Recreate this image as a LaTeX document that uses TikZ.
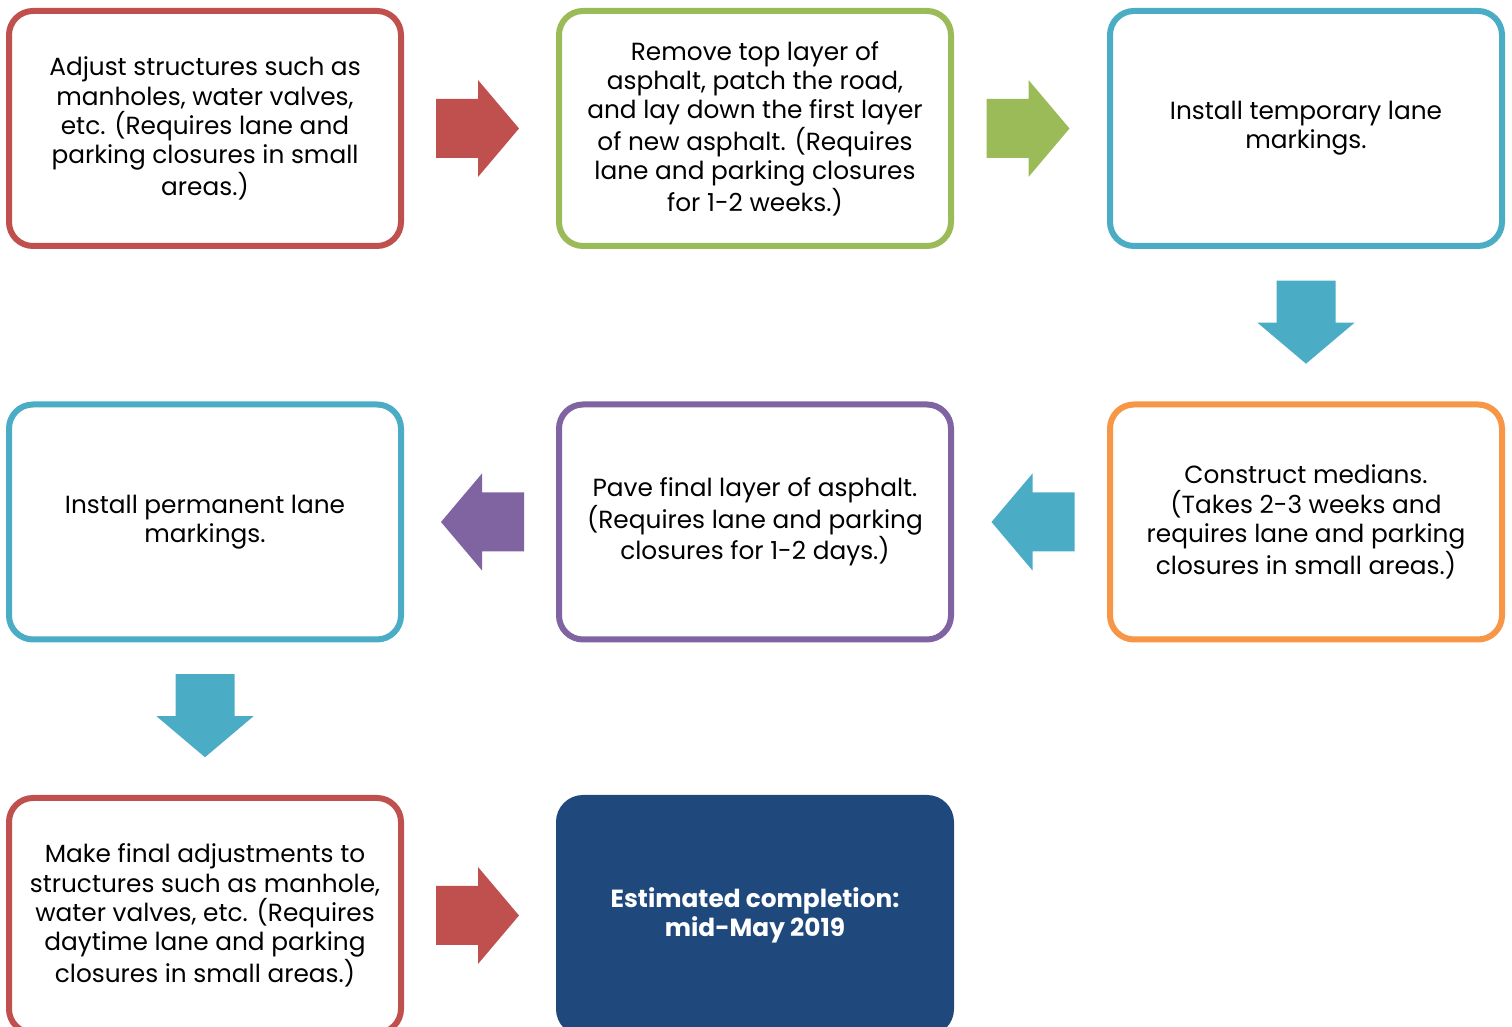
\documentclass[tikz,border=0pt]{standalone}
\usepackage{fontspec}
\setmainfont{Poppins}
\usetikzlibrary{calc}

\definecolor{stepred}{HTML}{C0504D}
\definecolor{stepgreen}{HTML}{9BBB59}
\definecolor{stepblue}{HTML}{4BACC6}
\definecolor{steppurple}{HTML}{8064A2}
\definecolor{steporange}{HTML}{F79646}
\definecolor{stepnavy}{HTML}{1F497D}

\tikzset{
	stepbox/.style={draw, line width=3pt, rounded corners=12pt, minimum width=196pt, minimum height=117.5pt,
		inner sep=0pt, align=center, fill=white, font=\fontsize{12.4}{14.6}\selectfont},
	blockarrow/.pic={
		\fill[pic actions] (-41.5,-29.5) -- (0.5,-29.5) -- (0.5,-48.5) -- (41.5,0) -- (0.5,48.5) -- (0.5,29.5) -- (-41.5,29.5) -- cycle;
	}
}

\begin{document}
\begin{tikzpicture}[x=0.5pt,y=0.5pt]
	\useasboundingbox (0,0) rectangle (1512,1027);
	\clip (0,0) rectangle (1512,1027);
	% first row
	\node[stepbox,draw=stepred] (adjust) at (205,898.5) {Adjust structures such as\\manholes, water valves,\\etc. (Requires lane and\\parking closures in small\\areas.)};
	\node[stepbox,draw=stepgreen] (remove) at (755,898.5) {Remove top layer of\\asphalt, patch the road,\\and lay down the first layer\\of new asphalt. (Requires\\lane and parking closures\\for 1-2 weeks.)};
	\node[stepbox,draw=stepblue] (temp) at (1306,898.5) {Install temporary lane\\markings.};
	% second row
	\node[stepbox,draw=steporange] (medians) at (1306,505) {Construct medians.\\(Takes 2-3 weeks and\\requires lane and parking\\closures in small areas.)};
	\node[stepbox,draw=steppurple] (pave) at (755,505) {Pave final layer of asphalt.\\(Requires lane and parking\\closures for 1-2 days.)};
	\node[stepbox,draw=stepblue] (perm) at (205,505) {Install permanent lane\\markings.};
	% third row
	\node[stepbox,draw=stepred] (final) at (205,111.5) {Make final adjustments to\\structures such as manhole,\\water valves, etc. (Requires\\daytime lane and parking\\closures in small areas.)};
	\node[stepbox,draw=stepnavy,fill=stepnavy,text=white,font=\fontsize{12.4}{14.6}\selectfont\bfseries] (done) at (755,111.5) {Estimated completion:\\mid-May 2019};
	% block arrows
	\pic[fill=stepred] at ($(adjust.east)!0.5!(remove.west)+(-2.5,0)$) {blockarrow};
	\pic[fill=stepgreen] at ($(remove.east)!0.5!(temp.west)+(-2.5,0)$) {blockarrow};
	\pic[fill=stepblue,rotate=-90] at ($(temp.south)!0.5!(medians.north)+(0,3)$) {blockarrow};
	\pic[fill=stepblue,rotate=180] at ($(pave.east)!0.5!(medians.west)+(2.5,0)$) {blockarrow};
	\pic[fill=steppurple,rotate=180] at ($(perm.east)!0.5!(pave.west)+(2.5,0)$) {blockarrow};
	\pic[fill=stepblue,rotate=-90] at ($(perm.south)!0.5!(final.north)+(0,3)$) {blockarrow};
	\pic[fill=stepred] at ($(final.east)!0.5!(done.west)+(-2.5,0)$) {blockarrow};
\end{tikzpicture}
\end{document}
